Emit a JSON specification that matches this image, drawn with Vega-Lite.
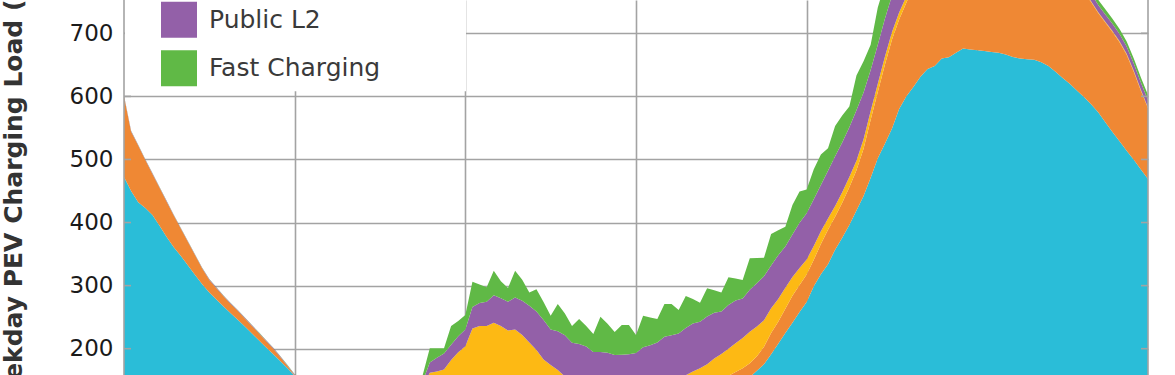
{
"$schema": "https://vega.github.io/schema/vega-lite/v6.json",
"width": 1024, "height": 375,
"autosize": {"type": "none"},
"padding": {"left": 124, "top": 0, "right": 27, "bottom": 0},
"background": "white",
"config": {"view": {"stroke": null}, "font": "DejaVu Sans"},
"datasets": {
"series": [{"key":"a","name":"Home L2","rank":1},{"key":"b","name":"Home L1","rank":2},{"key":"c","name":"Workplace Charging","rank":3},{"key":"d","name":"Public L2","rank":4},{"key":"e","name":"Fast Charging","rank":5}],
"edges": [{"m":0},{"m":1440}],
"marks": [{"m":0,"v":200},{"m":0,"v":300},{"m":0,"v":400},{"m":0,"v":500},{"m":0,"v":600},{"m":0,"v":700},{"m":1440,"v":200},{"m":1440,"v":300},{"m":1440,"v":400},{"m":1440,"v":500},{"m":1440,"v":600},{"m":1440,"v":700}],
"load": [
{"m":0,"a":472,"b":128,"c":0,"d":1,"e":0.5},
{"m":10,"a":450,"b":94,"c":0,"d":1,"e":0.5},
{"m":20,"a":432,"b":90,"c":0,"d":1,"e":0.5},
{"m":30,"a":423,"b":76,"c":0,"d":1,"e":0.5},
{"m":40,"a":412,"b":65,"c":0,"d":1,"e":0.5},
{"m":50,"a":395,"b":60,"c":0,"d":1,"e":0.5},
{"m":60,"a":377,"b":56,"c":0,"d":1,"e":0.5},
{"m":70,"a":361,"b":50,"c":0,"d":1,"e":0.5},
{"m":80,"a":347,"b":43,"c":0,"d":1,"e":0.5},
{"m":90,"a":332,"b":37,"c":0,"d":1,"e":0.5},
{"m":100,"a":317,"b":31,"c":0,"d":1,"e":0.5},
{"m":110,"a":302,"b":25,"c":0,"d":1,"e":0.5},
{"m":120,"a":289,"b":20,"c":0,"d":1,"e":0.5},
{"m":130,"a":278,"b":18,"c":0,"d":1,"e":0.5},
{"m":140,"a":267,"b":16,"c":0,"d":1,"e":0.5},
{"m":150,"a":256,"b":15,"c":0,"d":1,"e":0.5},
{"m":160,"a":246,"b":14,"c":0,"d":1,"e":0.5},
{"m":170,"a":235,"b":13,"c":0,"d":1,"e":0.5},
{"m":180,"a":224,"b":12,"c":0,"d":1,"e":0.5},
{"m":190,"a":213,"b":11,"c":0,"d":1,"e":0.5},
{"m":200,"a":202,"b":10,"c":0,"d":1,"e":0.5},
{"m":210,"a":191,"b":9,"c":0,"d":1,"e":0.5},
{"m":220,"a":180,"b":6.5,"c":0,"d":1,"e":0.5},
{"m":230,"a":169,"b":3.5,"c":0,"d":1,"e":0.5},
{"m":240,"a":157,"b":1,"c":0,"d":1,"e":0.5},
{"m":250,"a":150,"b":2,"c":0,"d":1,"e":0.5},
{"m":260,"a":142,"b":2,"c":0,"d":1,"e":0.5},
{"m":270,"a":135,"b":3,"c":0,"d":1,"e":0.5},
{"m":280,"a":128,"b":3,"c":0,"d":1,"e":0.5},
{"m":290,"a":121,"b":3,"c":0,"d":1,"e":0.5},
{"m":300,"a":115,"b":4,"c":0,"d":1,"e":0.5},
{"m":310,"a":110,"b":4,"c":0.5,"d":1.5,"e":0.5},
{"m":320,"a":105,"b":5,"c":1,"d":2,"e":1},
{"m":330,"a":100,"b":5,"c":1.5,"d":2.5,"e":1},
{"m":340,"a":95,"b":5,"c":2,"d":3,"e":1.5},
{"m":350,"a":91,"b":5,"c":3,"d":4,"e":2},
{"m":360,"a":87,"b":6,"c":5,"d":5,"e":3},
{"m":370,"a":83,"b":6,"c":8,"d":6,"e":4},
{"m":380,"a":80,"b":7,"c":12,"d":7,"e":5},
{"m":390,"a":77,"b":8,"c":18,"d":8,"e":6},
{"m":400,"a":74,"b":9,"c":26,"d":9,"e":7},
{"m":410,"a":71,"b":10,"c":36,"d":10,"e":8},
{"m":420,"a":68,"b":11,"c":59,"d":10,"e":10},
{"m":430,"a":66,"b":12,"c":84,"d":16,"e":22.7},
{"m":440,"a":64,"b":13,"c":87,"d":21.7,"e":15},
{"m":450,"a":62,"b":14,"c":91,"d":25.5,"e":8.2},
{"m":460,"a":61,"b":14,"c":107.2,"d":24.1,"e":29.7},
{"m":470,"a":60,"b":14,"c":120.4,"d":25.4,"e":24.2},
{"m":480,"a":59,"b":14,"c":131,"d":26.3,"e":23.2},
{"m":490,"a":58,"b":14,"c":160,"d":34,"e":40.3},
{"m":500,"a":57,"b":14,"c":165.1,"d":36.3,"e":29.5},
{"m":510,"a":57,"b":14,"c":165.1,"d":38.5,"e":22.8},
{"m":520,"a":56,"b":14,"c":171.3,"d":43.3,"e":39.1},
{"m":530,"a":56,"b":14,"c":166,"d":44,"e":27},
{"m":540,"a":55,"b":14,"c":160,"d":45.6,"e":21.7},
{"m":550,"a":55,"b":14,"c":161.5,"d":50.5,"e":42.7},
{"m":560,"a":55,"b":14,"c":152.7,"d":54.5,"e":33.1},
{"m":570,"a":54,"b":14,"c":142,"d":58,"e":20.9},
{"m":580,"a":54,"b":14,"c":130,"d":61,"e":35.2},
{"m":590,"a":54,"b":14,"c":115,"d":62.5,"e":28.5},
{"m":600,"a":54,"b":14,"c":106.3,"d":56.2,"e":21.9},
{"m":610,"a":54,"b":14,"c":98.2,"d":61.4,"e":43.4},
{"m":620,"a":54,"b":14,"c":88,"d":65.4,"e":34.5},
{"m":630,"a":54,"b":14,"c":82,"d":59.6,"e":26.5},
{"m":640,"a":54,"b":14,"c":77,"d":62.4,"e":39.8},
{"m":650,"a":54,"b":14,"c":72,"d":63.3,"e":32.8},
{"m":660,"a":54,"b":14,"c":67,"d":59.8,"e":28.6},
{"m":670,"a":54,"b":14,"c":64,"d":62.8,"e":56},
{"m":680,"a":55,"b":14,"c":61,"d":63.4,"e":46.3},
{"m":690,"a":55,"b":14,"c":59,"d":62.1,"e":36.5},
{"m":700,"a":56,"b":14,"c":57,"d":63.5,"e":47.2},
{"m":710,"a":56,"b":14,"c":57,"d":64,"e":46.7},
{"m":720,"a":57,"b":15,"c":56,"d":65,"e":28.8},
{"m":730,"a":58,"b":15,"c":57,"d":72.3,"e":50.1},
{"m":740,"a":59,"b":15,"c":59,"d":72.4,"e":44.2},
{"m":750,"a":61,"b":16,"c":60,"d":73,"e":37.2},
{"m":760,"a":63,"b":16,"c":63,"d":77,"e":52},
{"m":770,"a":66,"b":17,"c":65,"d":73.5,"e":49.5},
{"m":780,"a":70,"b":18,"c":65,"d":71,"e":37.5},
{"m":790,"a":75,"b":19,"c":64,"d":75,"e":50.6},
{"m":800,"a":81,"b":20,"c":63,"d":76.1,"e":38.8},
{"m":810,"a":88,"b":22,"c":59,"d":73.9,"e":30.1},
{"m":820,"a":96,"b":24,"c":55.5,"d":75.5,"e":44.8},
{"m":830,"a":105,"b":26,"c":53.5,"d":72.3,"e":36},
{"m":840,"a":116,"b":28,"c":47.5,"d":67.3,"e":30.1},
{"m":850,"a":126,"b":31,"c":43,"d":69.4,"e":43.9},
{"m":860,"a":136,"b":27,"c":45.5,"d":67.9,"e":34.8},
{"m":870,"a":145,"b":24,"c":48,"d":62.7,"e":29.3},
{"m":880,"a":155,"b":22,"c":50,"d":66.5,"e":49.9},
{"m":890,"a":165,"b":23,"c":47.3,"d":68.5,"e":40.1},
{"m":900,"a":175.5,"b":27.5,"c":42,"d":70,"e":29.3},
{"m":910,"a":191,"b":34,"c":39,"d":68,"e":49.9},
{"m":920,"a":208,"b":34.7,"c":36,"d":69.3,"e":39.6},
{"m":930,"a":225,"b":38.5,"c":33,"d":65.5,"e":31.5},
{"m":940,"a":241,"b":42.8,"c":30,"d":67.2,"e":46.9},
{"m":950,"a":258,"b":43.1,"c":27,"d":71.4,"e":49.6},
{"m":960,"a":274,"b":43.5,"c":24,"d":73.1,"e":37.8},
{"m":970,"a":299,"b":42,"c":22,"d":74,"e":47.5},
{"m":980,"a":318,"b":48,"c":20,"d":73.7,"e":48.2},
{"m":990,"a":334,"b":54.6,"c":18,"d":75.4,"e":35.7},
{"m":1000,"a":357,"b":52.2,"c":17,"d":78.8,"e":48},
{"m":1010,"a":376,"b":55.5,"c":16.5,"d":79,"e":42.6},
{"m":1020,"a":396,"b":60,"c":16,"d":79,"e":33},
{"m":1030,"a":419,"b":64,"c":15,"d":80,"e":55},
{"m":1040,"a":442,"b":75,"c":15,"d":74,"e":49.6},
{"m":1050,"a":471,"b":92,"c":14,"d":65,"e":40},
{"m":1060,"a":502,"b":105,"c":13,"d":62,"e":59},
{"m":1070,"a":525,"b":125,"c":13,"d":60,"e":55},
{"m":1080,"a":549,"b":141,"c":12,"d":58,"e":50},
{"m":1090,"a":580,"b":142,"c":11,"d":56,"e":47},
{"m":1100,"a":600,"b":148,"c":10,"d":54,"e":45},
{"m":1110,"a":615,"b":160,"c":10,"d":52,"e":42},
{"m":1120,"a":631,"b":167,"c":9,"d":50,"e":40},
{"m":1130,"a":643.5,"b":174.5,"c":8.5,"d":48,"e":37},
{"m":1140,"a":648,"b":188,"c":8,"d":46,"e":35},
{"m":1150,"a":660,"b":191,"c":7,"d":44,"e":32},
{"m":1160,"a":662,"b":202,"c":7,"d":42,"e":30},
{"m":1170,"a":669,"b":206,"c":6,"d":40,"e":28},
{"m":1180,"a":676,"b":208,"c":6,"d":38,"e":26},
{"m":1190,"a":674.5,"b":216.5,"c":5.5,"d":36,"e":24},
{"m":1200,"a":673,"b":223,"c":5,"d":34,"e":22},
{"m":1210,"a":672,"b":227,"c":4.5,"d":32,"e":20.5},
{"m":1220,"a":670.5,"b":229.5,"c":4,"d":30,"e":19},
{"m":1230,"a":669,"b":230,"c":4,"d":28,"e":17.5},
{"m":1240,"a":666.5,"b":229.5,"c":3.5,"d":26,"e":16},
{"m":1250,"a":662.5,"b":228.5,"c":3,"d":24.5,"e":15},
{"m":1260,"a":660,"b":224,"c":3,"d":23,"e":14},
{"m":1270,"a":659,"b":216,"c":3,"d":21.5,"e":13},
{"m":1280,"a":658,"b":206,"c":2.5,"d":20,"e":12},
{"m":1290,"a":654,"b":198,"c":2.5,"d":18.5,"e":11.5},
{"m":1300,"a":648,"b":191,"c":2,"d":17,"e":11},
{"m":1310,"a":639,"b":186,"c":2,"d":16,"e":10.5},
{"m":1320,"a":629,"b":182,"c":2,"d":15,"e":10},
{"m":1330,"a":620,"b":176,"c":2,"d":14,"e":9.5},
{"m":1340,"a":609.5,"b":170,"c":2,"d":13,"e":9},
{"m":1350,"a":599,"b":166,"c":2,"d":12.5,"e":8.5},
{"m":1360,"a":587.5,"b":162,"c":1.5,"d":12,"e":8.5},
{"m":1370,"a":575,"b":157,"c":1.5,"d":11.5,"e":8},
{"m":1380,"a":559,"b":158,"c":1.5,"d":11.5,"e":8},
{"m":1390,"a":543.5,"b":158.5,"c":1.5,"d":11.5,"e":8},
{"m":1400,"a":529,"b":157,"c":1.5,"d":11.5,"e":8},
{"m":1410,"a":514,"b":152,"c":1.5,"d":11.5,"e":8},
{"m":1420,"a":499.5,"b":139.5,"c":1.5,"d":11.5,"e":8},
{"m":1430,"a":484,"b":125,"c":1.5,"d":11.5,"e":8},
{"m":1440,"a":469,"b":112,"c":1.5,"d":11.5,"e":8}
]},
"layer": [
{
"data": {"name": "load"},
"transform": [
{"fold": ["a","b","c","d","e"], "as": ["key","value"]},
{"lookup": "key", "from": {"data": {"name": "series"}, "key": "key", "fields": ["name","rank"]}}
],
"mark": {"type": "area", "clip": true, "opacity": 1},
"encoding": {
"x": {"field": "m", "type": "quantitative", "scale": {"domain": [0,1440], "nice": false, "zero": false},
 "axis": {"values": [240,480,720,960,1200], "grid": true, "gridColor": "#a3a3a3", "gridWidth": 1.6, "labels": false, "ticks": false, "domain": false, "title": null}},
"y": {"field": "value", "type": "quantitative", "stack": "zero", "scale": {"domain": [158.3, 752.8], "nice": false, "zero": false},
 "axis": {"values": [200,300,400,500,600,700], "grid": true, "gridColor": "#a3a3a3", "gridWidth": 1.6, "ticks": false, "domain": false,
  "labelFont": "DejaVu Sans", "labelFontSize": 23, "labelColor": "#1a1a1a", "labelPadding": 11,
  "title": "Weekday PEV Charging Load (MW)", "titleFont": "DejaVu Sans", "titleFontSize": 25, "titleFontWeight": "bold", "titleColor": "#333333",
  "titleAngle": 270, "titleAlign": "left", "titleBaseline": "alphabetic", "titleX": -103, "titleY": 423}},
"color": {"field": "name", "type": "nominal",
 "scale": {"domain": ["Home L2","Home L1","Workplace Charging","Public L2","Fast Charging"], "range": ["#2ABDD8","#EF8834","#FDB914","#9360A8","#60B946"]},
 "legend": {"orient": "none", "legendX": 1, "legendY": -148.8, "title": null, "padding": 5, "fillColor": "white", "strokeColor": null,
  "symbolType": "square", "symbolSize": 1296, "symbolStrokeWidth": 0, "symbolOpacity": 1, "symbolOffset": 31, "labelOffset": 12,
  "labelFont": "DejaVu Sans", "labelFontSize": 25, "labelColor": "#3a3a3a", "labelLimit": 253, "rowPadding": 12.5}},
"order": {"field": "rank", "type": "quantitative", "sort": "ascending"}
}
},
{
"data": {"name": "edges"},
"mark": {"type": "rule", "color": "#a3a3a3", "strokeWidth": 1.6},
"encoding": {"x": {"field": "m", "type": "quantitative",
 "axis": {"values": [240,480,720,960,1200], "grid": true, "gridColor": "#a3a3a3", "gridWidth": 1.6, "labels": false, "ticks": false, "domain": false, "title": null}}}
},
{
"data": {"name": "marks"},
"mark": {"type": "tick", "orient": "horizontal", "color": "#a3a3a3", "thickness": 1.6, "size": 14, "clip": true, "opacity": 1},
"encoding": {
"x": {"field": "m", "type": "quantitative",
 "axis": {"values": [240,480,720,960,1200], "grid": true, "gridColor": "#a3a3a3", "gridWidth": 1.6, "labels": false, "ticks": false, "domain": false, "title": null}},
"y": {"field": "v", "type": "quantitative",
 "axis": {"values": [200,300,400,500,600,700], "grid": true, "gridColor": "#a3a3a3", "gridWidth": 1.6, "ticks": false, "domain": false,
  "labelFont": "DejaVu Sans", "labelFontSize": 23, "labelColor": "#1a1a1a", "labelPadding": 11,
  "title": "Weekday PEV Charging Load (MW)", "titleFont": "DejaVu Sans", "titleFontSize": 25, "titleFontWeight": "bold", "titleColor": "#333333",
  "titleAngle": 270, "titleAlign": "left", "titleBaseline": "alphabetic", "titleX": -103, "titleY": 423}}
}
}
]
}
